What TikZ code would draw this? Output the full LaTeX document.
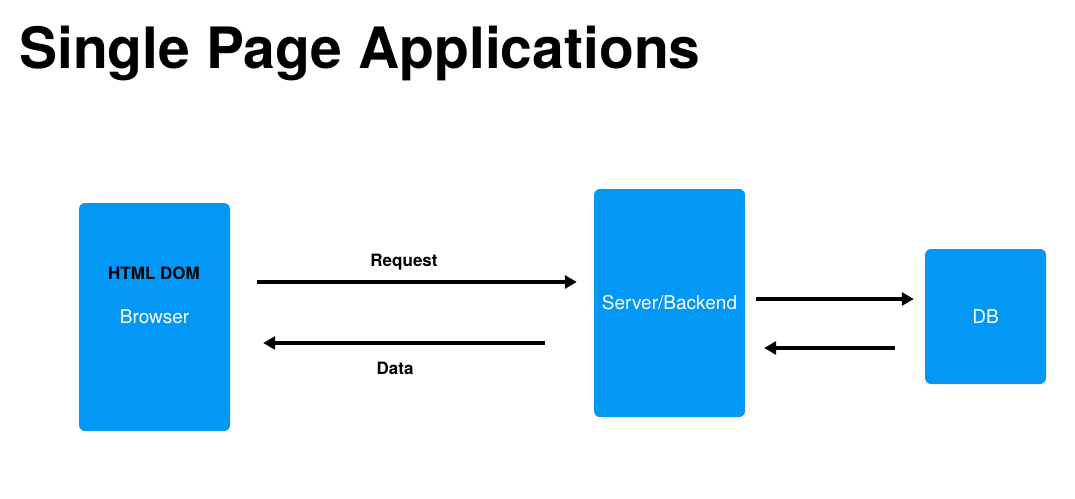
\documentclass[tikz,border=0pt]{standalone}
\usepackage{fontspec}
\setmainfont{TeX Gyre Heros}
\usetikzlibrary{arrows.meta}
\definecolor{boxblue}{RGB}{3,152,246}
\tikzset{
  box/.style={rectangle, rounded corners=6pt, fill=boxblue, inner sep=0pt,
    text=white, font=\fontsize{19}{22}\selectfont},
  lbl/.style={inner sep=0pt, anchor=base, font=\fontsize{17}{20}\selectfont\bfseries},
  arr/.style={line width=3.2pt, -{Triangle[length=12pt,width=13pt]}}
}
\begin{document}
\begin{tikzpicture}[x=1pt,y=-1pt]
\useasboundingbox (0,0) rectangle (1075,498);
\fill[white] (0,0) rectangle (1075,498);
\node[inner sep=0pt, anchor=base west, font=\fontsize{57}{60}\selectfont\bfseries] (title) at (19,68) {Single Page Applications};
\node[box, minimum width=151pt, minimum height=228pt] (browser) at (154.5,317) {Browser};
\node[box, minimum width=151pt, minimum height=228pt] (server) at (669.5,303) {Server/Backend};
\node[box, minimum width=121pt, minimum height=135pt] (db) at (985.5,316.5) {DB};
\node[lbl] (html) at (154,279) {HTML DOM};
\node[lbl] (req) at (404,266.5) {Request};
\node[lbl] (data) at (395,374) {Data};
\draw[arr] ([xshift=27pt,yshift=35pt]browser.east) -- ([xshift=-17pt,yshift=21pt]server.west);
\draw[arr] ([xshift=-49pt,yshift=-40pt]server.west) -- ([xshift=33pt,yshift=-26pt]browser.east);
\draw[arr] ([xshift=11pt,yshift=4pt]server.east) -- ([xshift=-11pt,yshift=17.5pt]db.west);
\draw[arr] ([xshift=-30pt,yshift=-31.5pt]db.west) -- ([xshift=19pt,yshift=-45pt]server.east);
\end{tikzpicture}
\end{document}
